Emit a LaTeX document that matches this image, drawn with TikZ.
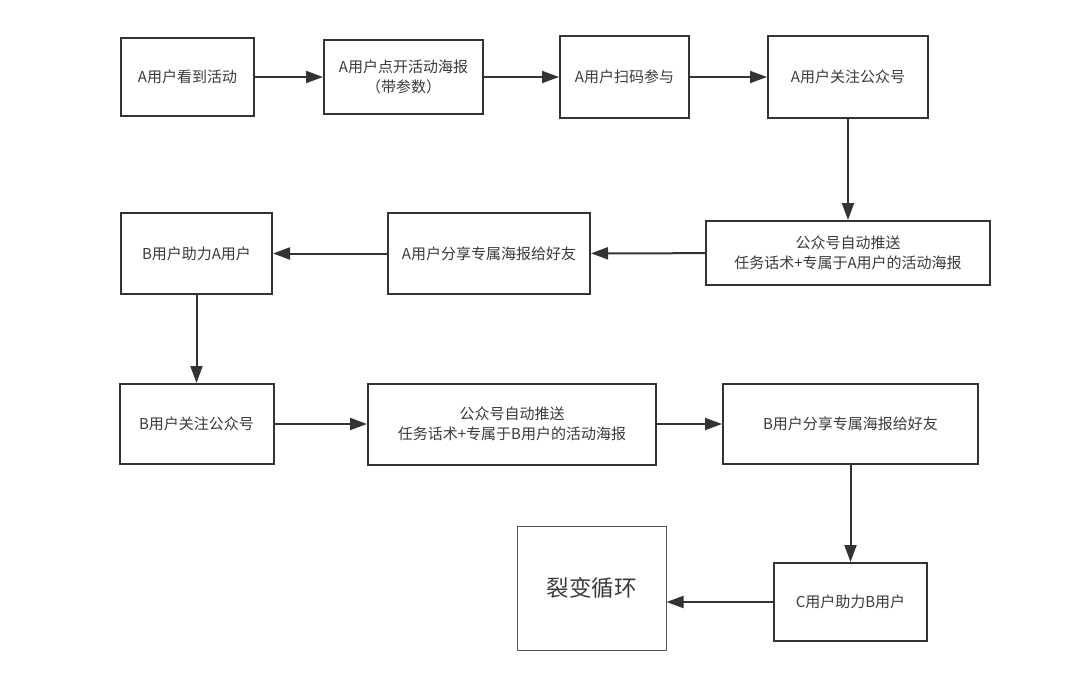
\documentclass[tikz,border=0pt]{standalone}
\usepackage{fontspec}
\setmainfont{Noto Sans CJK SC}
\newfontfamily\cjk{Noto Sans CJK SC}
\usetikzlibrary{arrows.meta}
\definecolor{ln}{HTML}{333333}
\definecolor{tx}{HTML}{3A3A3A}
\tikzset{
  box/.style={draw=ln, line width=2pt, rectangle, inner sep=0pt, align=center,
    text=tx, font=\cjk\fontsize{15}{20}\selectfont},
  thinbox/.style={draw=ln!85, line width=1pt, rectangle, inner sep=0pt, align=center,
    text=tx, font=\cjk\fontsize{22.5}{26}\selectfont},
  arr/.style={draw=ln, line width=2pt, -{Triangle[length=17pt,width=12pt]}},
}
\begin{document}
\begin{tikzpicture}[x=1pt,y=-1pt]
\useasboundingbox (0,0) rectangle (1080,689);
\node[box, minimum width=133pt, minimum height=78pt] (b1) at (187.5,77) {A用户看到活动};
\node[box, minimum width=159pt, minimum height=74pt] (b2) at (403.5,77) {A用户点开活动海报\\（带参数）};
\node[box, minimum width=129pt, minimum height=82pt] (b3) at (624.5,77) {A用户扫码参与};
\node[box, minimum width=160pt, minimum height=82pt] (b4) at (848,77) {A用户关注公众号};
\node[box, minimum width=284pt, minimum height=64pt] (b5) at (848,253) {公众号自动推送\\任务话术+专属于A用户的活动海报};
\node[box, minimum width=202pt, minimum height=81pt] (b6) at (489,253.5) {A用户分享专属海报给好友};
\node[box, minimum width=151pt, minimum height=81pt] (b7) at (196.5,253.5) {B用户助力A用户};
\node[box, minimum width=154pt, minimum height=80pt] (b8) at (196.5,424) {B用户关注公众号};
\node[box, minimum width=288pt, minimum height=81pt] (b9) at (512,424) {公众号自动推送\\任务话术+专属于B用户的活动海报};
\node[box, minimum width=255pt, minimum height=80pt] (b10) at (850.5,424) {B用户分享专属海报给好友};
\node[box, minimum width=153pt, minimum height=78pt] (b11) at (850.5,602) {C用户助力B用户};
\node[thinbox, minimum width=149pt, minimum height=124pt] (b12) at (591.5,588) {裂变循环};
\draw[arr] (b1) -- (b2);
\draw[arr] (b2) -- (b3);
\draw[arr] (b3) -- (b4);
\draw[arr] (b4) -- (b5);
\draw[arr] (b5) -- (b6);
\draw[arr] (b6) -- (b7);
\draw[arr] (b7) -- (b8);
\draw[arr] (b8) -- (b9);
\draw[arr] (b9) -- (b10);
\draw[arr] (b10) -- (b11);
\draw[arr] (b11.west) -- (b11.west -| b12.east);
\end{tikzpicture}
\end{document}
